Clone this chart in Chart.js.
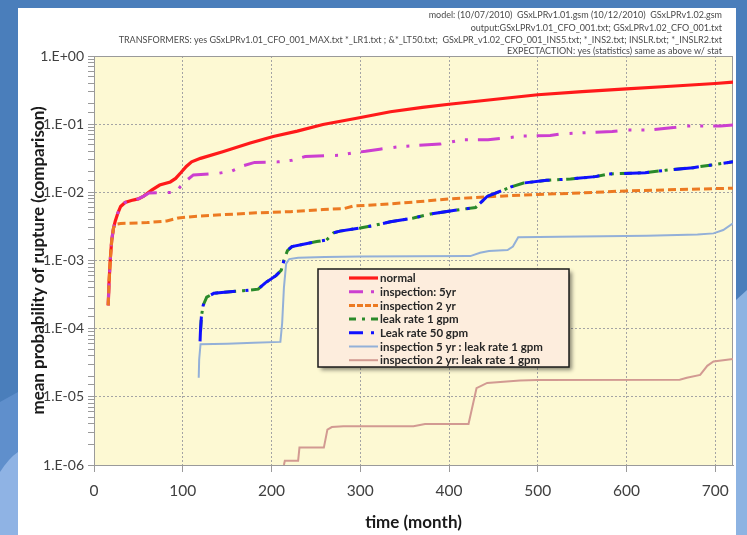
<!DOCTYPE html>
<html>
<head>
<meta charset="utf-8">
<script src="https://cdn.jsdelivr.net/npm/chart.js@4.4.1/dist/chart.umd.min.js"></script>
<style>
    html, body { margin: 0; padding: 0; }
    body { width: 747px; height: 535px; overflow: hidden; position: relative; background: #4a7ebb; }
    #bg { position: absolute; left: 0; top: 0; }
    #panel { position: absolute; left: 18px; top: 8px; width: 718px; height: 527px; background: #ffffff; }
    #riskChart { position: absolute; left: 0; top: 0; }
</style>
</head>
<body>
<svg id="bg" width="747" height="535">
    <rect width="747" height="535" fill="#4a7ebb"/>
    <path d="M0 402 L18 392 L18 535 L0 535 Z" fill="#5f8fcc"/>
    <path d="M0 472 Q9 458 18 452 L18 535 L0 535 Z" fill="#8fb3e4"/>
    <path d="M736 300 L747 290 L747 535 L736 535 Z" fill="#8db3e2"/>
</svg>
<div id="panel"></div>
<canvas id="riskChart" width="747" height="535"></canvas>
<script>
// values: [month, mean probability]
const normalPts = [[16, 2.2e-4], [17, 5e-4], [18.5, 1.1e-3], [20, 2.0e-3], [22, 3.0e-3], [24, 3.8e-3], [27, 5.0e-3], [30, 6.2e-3], [35, 7.1e-3], [42, 7.6e-3], [50, 8.0e-3], [56, 8.8e-3], [65, 1.08e-2], [74, 1.28e-2], [86, 1.42e-2], [92, 1.6e-2], [98, 1.95e-2], [104, 2.4e-2], [110, 2.8e-2], [120, 3.15e-2], [145, 3.95e-2], [176, 5.3e-2], [202, 6.6e-2], [229, 7.9e-2], [258, 9.9e-2], [296, 1.22e-1], [334, 1.52e-1], [370, 1.76e-1], [400, 1.96e-1], [450, 2.3e-1], [500, 2.7e-1], [550, 3.0e-1], [600, 3.3e-1], [650, 3.6e-1], [700, 3.95e-1], [720, 4.15e-1]];

const insp5Pts = [[16, 2.2e-4], [17, 5e-4], [18.5, 1.1e-3], [20, 2.0e-3], [22, 3.0e-3], [24, 3.8e-3], [27, 5.0e-3], [30, 6.2e-3], [35, 7.1e-3], [42, 7.6e-3], [50, 8.0e-3], [56, 8.8e-3], [62, 9.8e-3], [92, 1.0e-2], [97, 1.2e-2], [103, 1.45e-2], [112, 1.8e-2], [140, 1.9e-2], [155, 2.05e-2], [168, 2.45e-2], [181, 2.75e-2], [207, 2.8e-2], [223, 2.95e-2], [238, 3.35e-2], [277, 3.5e-2], [292, 3.8e-2], [306, 4.0e-2], [322, 4.3e-2], [345, 4.7e-2], [390, 5.1e-2], [415, 5.9e-2], [444, 5.9e-2], [460, 6.2e-2], [484, 6.7e-2], [514, 6.8e-2], [527, 7.2e-2], [553, 7.5e-2], [584, 7.8e-2], [599, 8.2e-2], [624, 8.2e-2], [653, 8.9e-2], [666, 9.4e-2], [706, 9.4e-2], [720, 9.7e-2]];

const insp2Pts = [[16, 2.2e-4], [17, 5e-4], [18.5, 1.1e-3], [20, 2.0e-3], [22, 3.0e-3], [24, 3.4e-3], [30, 3.5e-3], [60, 3.6e-3], [82, 3.8e-3], [95, 4.2e-3], [110, 4.4e-3], [146, 4.7e-3], [183, 5.0e-3], [221, 5.2e-3], [258, 5.6e-3], [282, 5.8e-3], [292, 6.3e-3], [322, 6.6e-3], [360, 7.2e-3], [401, 8.0e-3], [450, 8.7e-3], [500, 9.3e-3], [550, 9.8e-3], [600, 1.05e-2], [660, 1.1e-2], [720, 1.15e-2]];

const leak1Pts = [[120, 9e-5], [121, 1.5e-4], [123, 2.2e-4], [127, 2.9e-4], [135, 3.3e-4], [144, 3.4e-4], [168, 3.6e-4], [185, 3.8e-4], [193, 4.7e-4], [205, 6.0e-4], [211, 7.2e-4], [214, 1.0e-3], [218, 1.4e-3], [223, 1.6e-3], [251, 1.9e-3], [262, 2.0e-3], [270, 2.55e-3], [277, 2.7e-3], [300, 3.0e-3], [317, 3.3e-3], [334, 3.7e-3], [360, 4.2e-3], [379, 4.8e-3], [409, 5.5e-3], [430, 6.0e-3], [443, 8.7e-3], [458, 1.04e-2], [470, 1.2e-2], [484, 1.37e-2], [510, 1.5e-2], [537, 1.57e-2], [565, 1.7e-2], [580, 1.86e-2], [621, 1.94e-2], [647, 2.13e-2], [675, 2.3e-2], [694, 2.5e-2], [720, 2.8e-2]];

const leak50Pts = [[119.5, 6.5e-5], [120, 9.5e-5], [121, 1.5e-4], [123, 2.2e-4], [127, 2.9e-4], [135, 3.3e-4], [144, 3.4e-4], [168, 3.6e-4], [185, 3.8e-4], [193, 4.7e-4], [205, 6.0e-4], [211, 7.2e-4], [214, 1.0e-3], [218, 1.4e-3], [223, 1.6e-3], [251, 1.9e-3], [262, 2.0e-3], [270, 2.55e-3], [277, 2.7e-3], [300, 3.0e-3], [317, 3.3e-3], [334, 3.7e-3], [360, 4.2e-3], [379, 4.8e-3], [409, 5.5e-3], [430, 6.0e-3], [443, 8.7e-3], [458, 1.04e-2], [470, 1.2e-2], [484, 1.37e-2], [510, 1.5e-2], [537, 1.57e-2], [565, 1.7e-2], [580, 1.86e-2], [621, 1.94e-2], [647, 2.13e-2], [675, 2.3e-2], [694, 2.5e-2], [720, 2.8e-2]];

const insp5LeakPts = [[118, 1.9e-5], [118.5, 3.5e-5], [120, 5.9e-5], [150, 6.0e-5], [180, 6.2e-5], [210, 6.4e-5], [212, 1.2e-4], [214, 4e-4], [216.5, 9.0e-4], [220, 1.05e-3], [230, 1.1e-3], [260, 1.13e-3], [300, 1.14e-3], [360, 1.15e-3], [424, 1.16e-3], [435, 1.3e-3], [445, 1.38e-3], [466, 1.42e-3], [472, 1.6e-3], [478, 2.2e-3], [548, 2.25e-3], [623, 2.3e-3], [680, 2.4e-3], [698, 2.5e-3], [709, 2.8e-3], [720, 3.5e-3]];

const insp2LeakPts = [[214, 1.0e-6], [215, 1.15e-6], [230, 1.15e-6], [231.5, 1.8e-6], [259, 1.8e-6], [263, 3.3e-6], [268, 3.6e-6], [281, 3.7e-6], [360, 3.7e-6], [373, 4.0e-6], [422, 4.0e-6], [431, 1.34e-5], [443, 1.6e-5], [480, 1.73e-5], [500, 1.76e-5], [660, 1.78e-5], [668, 1.9e-5], [683, 2.1e-5], [691, 2.85e-5], [698, 3.3e-5], [720, 3.6e-5]];

const seriesNames = [
    'normal',
    'inspection: 5yr',
    'inspection 2 yr',
    'leak rate 1 gpm',
    'Leak rate 50 gpm',
    'inspection 5 yr : leak rate 1 gpm',
    'inspection 2 yr: leak rate 1 gpm'
];

const seriesPoints = [normalPts, insp5Pts, insp2Pts, leak1Pts, leak50Pts, insp5LeakPts, insp2LeakPts];

const decades = [1, 1e-1, 1e-2, 1e-3, 1e-4, 1e-5, 1e-6];
const decadeLabels = ['1.E+00', '1.E-01', '1.E-02', '1.E-03', '1.E-04', '1.E-05', '1.E-06'];

const monthTicks = [0, 100, 200, 300, 400, 500, 600, 700];

const headerLines = [
    'model: (10/07/2010)  GSxLPRv1.01.gsm (10/12/2010)  GSxLPRv1.02.gsm',
    'output:GSxLPRv1.01_CFO_001.txt; GSxLPRv1.02_CFO_001.txt',
    'TRANSFORMERS: yes GSxLPRv1.01_CFO_001_MAX.txt *_LR1.txt ; &*_LT50.txt;  GSxLPR_v1.02_CFO_001_INS5.txt; *_INS2.txt; INSLR.txt; *_INSLR2.txt',
    'EXPECTACTION: yes (statistics) same as above w/ stat'
];

// line styles
const styles = [
    { color: '#ff1a1a', width: 3.2, dash: [], legendDash: [] },
    { color: '#cc3fd0', width: 3, dash: [22, 11, 3, 10, 3, 10], legendDash: [14, 8, 3, 10] },
    { color: '#ec7a22', width: 3, dash: [8, 4], legendDash: [6, 2] },
    { color: '#2a8a2a', width: 3, dash: [12, 6, 3, 6], legendDash: [7, 6, 3, 6] },
    { color: '#1010ff', width: 3, dash: [25, 10, 3, 12], legendDash: [14, 8, 3, 10] },
    { color: '#93b0d8', width: 2, dash: [], legendDash: [] },
    { color: '#d29a92', width: 2, dash: [], legendDash: [] }
];

function isDecade(v) {
    const e = Math.log10(v);
    return Math.abs(e - Math.round(e)) < 1e-6;
}

const plotBg = {
    id: 'plotBg',
    beforeDraw(chart) {
        const { ctx, chartArea: a } = chart;
        ctx.save();
        ctx.fillStyle = '#fdf9d3';
        ctx.fillRect(a.left, a.top, a.right - a.left, a.bottom - a.top);
        ctx.restore();
    },
    beforeDatasetsDraw(chart) {
        const { ctx, chartArea: a } = chart;
        ctx.save();
        ctx.strokeStyle = '#9a9a9a';
        ctx.lineWidth = 1;
        ctx.strokeRect(a.left + 0.5, a.top + 0.5, a.right - a.left - 1, a.bottom - a.top);
        ctx.restore();
    }
};

const header = {
    id: 'header',
    afterDraw(chart) {
        const ctx = chart.ctx;
        const ys = [15, 28, 40, 51];
        ctx.save();
        ctx.fillStyle = '#4a4a4a';
        ctx.font = '9px Lato';
        ctx.textAlign = 'right';
        ctx.textBaseline = 'middle';
        headerLines.forEach((t, i) => ctx.fillText(t, 722, ys[i]));
        ctx.restore();
    }
};

const boxLegend = {
    id: 'boxLegend',
    afterDatasetsDraw(chart) {
        const ctx = chart.ctx;
        const x = 318, y = 269, w = 251, h = 98;
        ctx.save();
        ctx.shadowColor = 'rgba(0,0,0,0.45)';
        ctx.shadowBlur = 4;
        ctx.shadowOffsetX = 3;
        ctx.shadowOffsetY = 3;
        ctx.fillStyle = '#fdeddd';
        ctx.fillRect(x, y, w, h);
        ctx.shadowColor = 'transparent';
        ctx.strokeStyle = '#1a1a1a';
        ctx.lineWidth = 1.5;
        ctx.strokeRect(x, y, w, h);

        ctx.font = 'bold 11.5px Lato';
        ctx.textBaseline = 'middle';
        seriesNames.forEach((name, i) => {
            const ry = y + 9 + i * 13.7;
            const s = styles[i];
            ctx.beginPath();
            ctx.setLineDash(s.legendDash);
            ctx.strokeStyle = s.color;
            ctx.lineWidth = s.width;
            ctx.moveTo(349, ry);
            ctx.lineTo(378, ry);
            ctx.stroke();
            ctx.setLineDash([]);
            ctx.fillStyle = '#262626';
            ctx.fillText(name, 380, ry + 0.5);
        });
        ctx.restore();
    }
};

const canvas = document.getElementById('riskChart');

new Chart(canvas, {

    type: 'line',

    data: {

        datasets: seriesNames.map((name, i) => ({
            label: name,
            data: seriesPoints[i].map(p => ({ x: p[0], y: p[1] })),
            borderColor: styles[i].color,
            borderWidth: styles[i].width,
            borderDash: styles[i].dash,
            pointRadius: 0,
            tension: 0,
            fill: false,
            order: seriesNames.length - i
        }))

    },

    options: {

        responsive: false,
        animation: false,
        layout: { padding: { left: 0, top: 56, right: 14, bottom: 0 } },

        plugins: {
            legend: { display: false },
            tooltip: { enabled: false }
        },

        scales: {

            x: {
                type: 'linear',
                min: 0,
                max: 720,
                afterFit: s => { s.height = 70; },
                afterBuildTicks: s => { s.ticks = monthTicks.map(v => ({ value: v })); },
                ticks: {
                    padding: 10,
                    maxRotation: 0,
                    color: '#404040',
                    font: { family: 'Lato', size: 15.5 }
                },
                grid: {
                    color: c => (c.tick && c.tick.value === 0) ? 'rgba(0,0,0,0)' : '#a4a4a4',
                    tickColor: '#9a9a9a',
                    tickLength: 7
                },
                border: { color: '#9a9a9a', width: 1, dash: [2, 2] },
                title: {
                    display: true,
                    text: 'time (month)',
                    color: '#1a1a1a',
                    font: { family: 'Lato', size: 17, weight: 'bold' },
                    padding: { top: 0, bottom: 2 }
                }
            },

            y: {
                type: 'logarithmic',
                min: 1e-6,
                max: 1,
                afterFit: s => { s.width = 94; },
                ticks: {
                    autoSkip: false,
                    padding: 4,
                    color: '#404040',
                    font: { family: 'Lato', size: 14 },
                    callback: v => {
                        const k = decades.findIndex(d => Math.abs(Math.log10(d) - Math.log10(v)) < 1e-6);
                        return k >= 0 ? decadeLabels[k] : '';
                    }
                },
                grid: {
                    color: c => (c.tick && isDecade(c.tick.value)) ? '#a4a4a4' : 'rgba(0,0,0,0)',
                    tickColor: '#9a9a9a',
                    tickLength: 6
                },
                border: { color: '#9a9a9a', width: 1, dash: [2, 2] },
                title: {
                    display: true,
                    text: 'mean probability of rupture (comparison)',
                    color: '#1a1a1a',
                    font: { family: 'Lato', size: 17, weight: 'bold' },
                    padding: { top: 28, bottom: 0 }
                }
            }

        }

    },

    plugins: [plotBg, header, boxLegend]

});
</script>
</body>
</html>
